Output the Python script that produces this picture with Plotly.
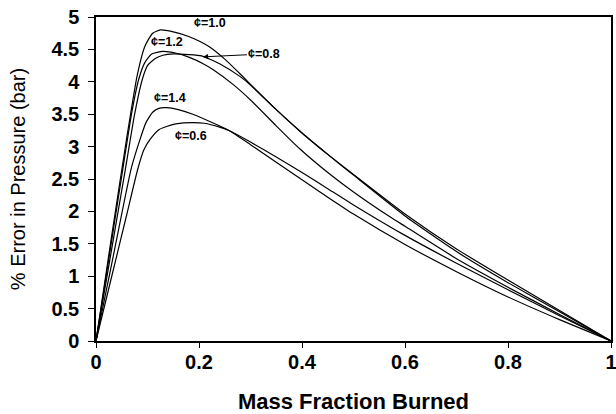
import plotly.graph_objects as go

# Mass fraction burned (x) and % error in pressure (y) for each equivalence ratio
x_10 = [0, 0.03, 0.06, 0.08, 0.095, 0.11, 0.125, 0.15, 0.18, 0.2, 0.22, 0.25, 0.28, 0.3, 0.35, 0.4, 0.45, 0.5, 0.6, 0.7, 0.8, 0.9, 1.0]
y_10 = [0, 1.6, 3.15, 4.1, 4.55, 4.75, 4.8, 4.77, 4.7, 4.63, 4.54, 4.35, 4.12, 3.96, 3.57, 3.21, 2.88, 2.57, 1.96, 1.42, 0.94, 0.47, 0]

x_08 = [0, 0.03, 0.057, 0.075, 0.09, 0.1, 0.115, 0.13, 0.15, 0.18, 0.205, 0.24, 0.28, 0.3, 0.35, 0.4, 0.45, 0.5, 0.6, 0.7, 0.8, 0.9, 1.0]
y_08 = [0, 1.4, 2.65, 3.5, 4.04, 4.25, 4.36, 4.41, 4.43, 4.42, 4.40, 4.28, 4.08, 3.95, 3.57, 3.21, 2.88, 2.56, 1.93, 1.38, 0.9, 0.45, 0]

x_12 = [0, 0.03, 0.052, 0.07, 0.083, 0.095, 0.108, 0.13, 0.156, 0.18, 0.208, 0.227, 0.266, 0.3, 0.35, 0.395, 0.45, 0.5, 0.57, 0.6, 0.7, 0.8, 0.9, 1.0]
y_12 = [0, 1.53, 2.65, 3.55, 4.04, 4.3, 4.43, 4.47, 4.44, 4.38, 4.28, 4.19, 3.96, 3.72, 3.32, 2.97, 2.6, 2.3, 1.92, 1.77, 1.27, 0.83, 0.41, 0]

x_14 = [0, 0.03, 0.068, 0.085, 0.097, 0.11, 0.122, 0.137, 0.16, 0.188, 0.234, 0.26, 0.3, 0.35, 0.4, 0.45, 0.5, 0.6, 0.7, 0.8, 0.9, 1.0]
y_14 = [0, 1.17, 2.65, 3.1, 3.37, 3.53, 3.59, 3.6, 3.57, 3.5, 3.34, 3.24, 3.03, 2.76, 2.49, 2.22, 1.96, 1.49, 1.07, 0.68, 0.33, 0]

x_06 = [0, 0.03, 0.06, 0.081, 0.093, 0.105, 0.122, 0.137, 0.155, 0.188, 0.21, 0.24, 0.26, 0.3, 0.35, 0.4, 0.45, 0.5, 0.6, 0.7, 0.8, 0.9, 1.0]
y_06 = [0, 0.98, 1.96, 2.65, 2.95, 3.11, 3.26, 3.31, 3.35, 3.37, 3.36, 3.30, 3.24, 3.07, 2.84, 2.6, 2.35, 2.1, 1.63, 1.2, 0.79, 0.39, 0]

series = [("¢=1.0", x_10, y_10), ("¢=0.8", x_08, y_08), ("¢=1.2", x_12, y_12),
          ("¢=1.4", x_14, y_14), ("¢=0.6", x_06, y_06)]

x_ticks = [0, 0.2, 0.4, 0.6, 0.8, 1]
x_tick_text = ["0", "0.2", "0.4", "0.6", "0.8", "1"]
y_ticks = [0, 0.5, 1, 1.5, 2, 2.5, 3, 3.5, 4, 4.5, 5]
y_tick_text = ["0", "0.5", "1", "1.5", "2", "2.5", "3", "3.5", "4", "4.5", "5"]

FAM = "Liberation Sans, Arial, sans-serif"

fig = go.Figure()
for name, xs, ys in series:
    fig.add_trace(go.Scatter(x=xs, y=ys, mode="lines", name=name,
                             line=dict(color="black", width=1.2, shape="spline", smoothing=0.5),
                             showlegend=False, hoverinfo="skip"))

lab_font = dict(family=FAM, size=12.5, color="black")
labels = [
    ("<b>¢=1.0</b>", 0.221, 4.91),
    ("<b>¢=1.2</b>", 0.138, 4.61),
    ("<b>¢=1.4</b>", 0.143, 3.75),
    ("<b>¢=0.6</b>", 0.185, 3.16),
]
for t, xx, yy in labels:
    fig.add_annotation(x=xx, y=yy, text=t, showarrow=False, font=lab_font)

fig.add_annotation(x=0.208, y=4.385, ax=0.327, ay=4.43, axref="x", ayref="y",
                   text="<b>¢=0.8</b>", showarrow=True, arrowhead=2, arrowsize=1,
                   arrowwidth=1, arrowcolor="black", font=lab_font)

tick_font = dict(family=FAM, size=20, color="black")
fig.update_layout(
    width=616, height=414,
    margin=dict(l=96, r=5, t=17, b=73),
    paper_bgcolor="white", plot_bgcolor="white",
    xaxis=dict(range=[0, 1], tickvals=x_ticks, ticktext=["<b>%s</b>" % t for t in x_tick_text],
               ticks="outside", ticklen=5, tickcolor="black", tickwidth=1,
               showline=True, linecolor="black", linewidth=1.5, mirror=True,
               showgrid=False, zeroline=False, tickfont=tick_font, automargin=False,
               ticklabeloverflow="allow", ticklabelstandoff=-3,
               title=dict(text="<b>Mass Fraction Burned</b>",
                          font=dict(family=FAM, size=22, color="black"), standoff=22)),
    yaxis=dict(range=[0, 5], tickvals=y_ticks, ticktext=["<b>%s</b>" % t for t in y_tick_text],
               ticks="outside", ticklen=6, tickcolor="black", tickwidth=1,
               showline=True, linecolor="black", linewidth=1.5, mirror=True,
               showgrid=False, zeroline=False, tickfont=tick_font, automargin=False,
               ticklabelstandoff=5, ticklabeloverflow="allow",
               title=dict(text="% Error in Pressure (bar)",
                          font=dict(family=FAM, size=20, color="black"),
                          standoff=20)),
)

fig.write_html("out.html", config={"displayModeBar": False},
               post_script="document.body.style.margin='0';document.body.style.padding='0';")
